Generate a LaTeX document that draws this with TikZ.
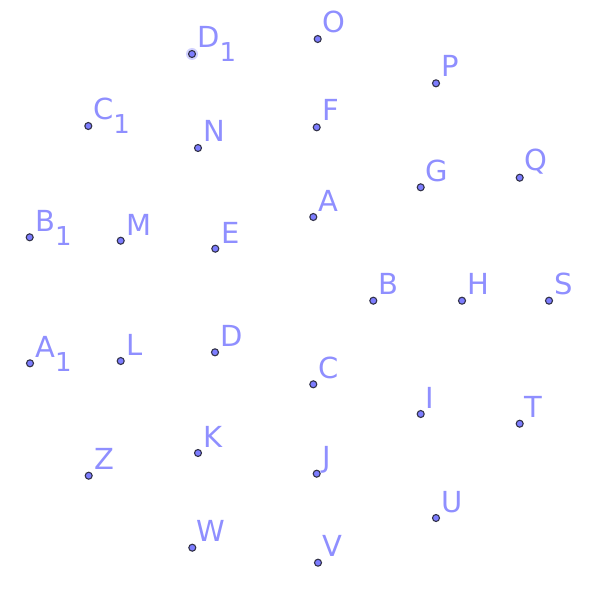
\documentclass[tikz,border=0pt]{standalone}
\usepackage{fontspec}
\setmainfont{DejaVu Sans}
\usepackage{tikz}
\definecolor{lilac}{HTML}{8F8FFF}
\definecolor{dotfill}{HTML}{7D7DFF}
\definecolor{rim}{HTML}{33334A}
\newcommand{\lowidx}[1]{\raisebox{-14pt}{\fontsize{26}{26}\selectfont #1}}

\begin{document}
\begin{tikzpicture}[
  x=1pt, y=-1pt,
  pt/.style={circle, draw=rim, fill=dotfill, line width=1.1pt,
             minimum size=7pt, inner sep=0pt},
  halo/.style={circle, fill=lilac!40, minimum size=12pt, inner sep=0pt},
  tag/.style={anchor=base west, inner sep=0pt, text=lilac,
              font=\fontsize{29}{29}\selectfont},
]
\useasboundingbox (0,0) rectangle (596,588);

% top row
\node[halo] (D1-h) at (192,54) {};
\node[pt] (D1) at (192,54) {};
\node[tag] (D1-l) at (197,48) {D\lowidx{1}};
\node[pt] (O) at (317.7,39) {};
\node[tag] (O-l) at (322,33) {O};
\node[pt] (P) at (436,83.3) {};
\node[tag] (P-l) at (441,77) {P};

\node[pt] (C1) at (88.3,126) {};
\node[tag] (C1-l) at (93,120) {C\lowidx{1}};
\node[pt] (N) at (198,148) {};
\node[tag] (N-l) at (203,142) {N};
\node[pt] (F) at (316.7,127.3) {};
\node[tag] (F-l) at (322,121) {F};
\node[pt] (G) at (420.7,187.3) {};
\node[tag] (G-l) at (425,181) {G};
\node[pt] (Q) at (519.7,177.7) {};
\node[tag] (Q-l) at (524,171) {Q};

\node[pt] (A) at (313.3,217) {};
\node[tag] (A-l) at (318,211) {A};
\node[pt] (B1) at (29.7,237.3) {};
\node[tag] (B1-l) at (35,231) {B\lowidx{1}};
\node[pt] (M) at (120.7,240.7) {};
\node[tag] (M-l) at (126,235) {M};
\node[pt] (E) at (215.3,248.7) {};
\node[tag] (E-l) at (221,243) {E};

% middle row
\node[pt] (B) at (373.3,300.7) {};
\node[tag] (B-l) at (378,294.5) {B};
\node[pt] (H) at (462,300.7) {};
\node[tag] (H-l) at (467,294.5) {H};
\node[pt] (S) at (549,300.7) {};
\node[tag] (S-l) at (554,294.5) {S};

\node[pt] (A1) at (30,363.3) {};
\node[tag] (A1-l) at (35,357) {A\lowidx{1}};
\node[pt] (L) at (120.7,361) {};
\node[tag] (L-l) at (126,355) {L};
\node[pt] (D) at (215,352.3) {};
\node[tag] (D-l) at (220,346) {D};
\node[pt] (C) at (313.3,384.3) {};
\node[tag] (C-l) at (318,378) {C};

% bottom rows
\node[pt] (I) at (420.7,414) {};
\node[tag] (I-l) at (425,408) {I};
\node[pt] (T) at (519.7,423.7) {};
\node[tag] (T-l) at (524,417.5) {T};
\node[pt] (Z) at (88.7,475.7) {};
\node[tag] (Z-l) at (94,469.5) {Z};
\node[pt] (K) at (198,453) {};
\node[tag] (K-l) at (203,447) {K};
\node[pt] (J) at (316.7,473.7) {};
\node[tag] (J-l) at (322,467.5) {J};
\node[pt] (U) at (436,518) {};
\node[tag] (U-l) at (441,512) {U};
\node[pt] (W) at (192.3,547.7) {};
\node[tag] (W-l) at (196,541.5) {W};
\node[pt] (V) at (318,562.7) {};
\node[tag] (V-l) at (322,556.5) {V};
\end{tikzpicture}
\end{document}
